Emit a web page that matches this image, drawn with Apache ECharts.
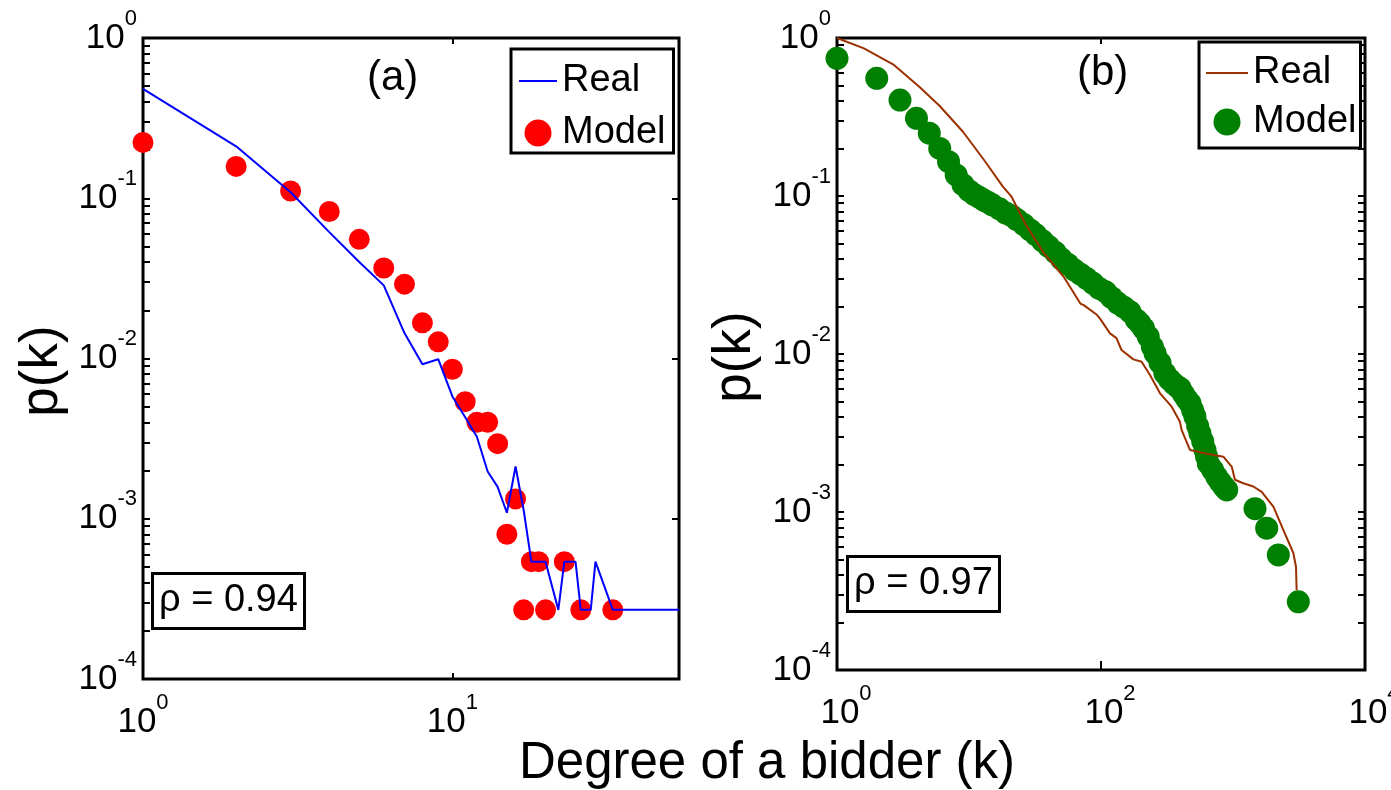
<!DOCTYPE html>
<html>
<head>
<meta charset="utf-8">
<title>Degree of a bidder</title>
<script src="https://cdn.jsdelivr.net/npm/echarts@6/dist/echarts.min.js"></script>
<style>
html,body{margin:0;padding:0;background:#fff;}
#chart{width:1391px;height:790px;}
</style>
</head>
<body>
<div id="chart"></div>
<script>
// panel (a)
var realAK = [1,2,3,4,5,6,7,8,9,10,11,12,13,14,15,16,17,18,19,20,22,23,24,25,26,27,28,29,33,54];
var realAP = [0.482,0.211,0.109,0.0615,0.040,0.0286,0.0144,0.0092,0.0099,0.0058,
  0.0043,0.00325,0.00197,0.00158,0.00109,0.00212,0.00113,5.4e-4,5.4e-4,5.4e-4,
  2.7e-4,5.4e-4,5.4e-4,5.4e-4,2.7e-4,2.7e-4,2.7e-4,5.4e-4,2.7e-4,2.7e-4];
var modelAK = [1,2,3,4,5,6,7,8,9,10,11,12,13,14,15,16,17,18,19,20,23,26,33];
var modelAP = [0.223,0.158,0.111,0.0827,0.0554,0.0367,0.0291,0.0167,0.0127,0.00857,
  0.00538,0.0040,0.0040,0.00294,0.0008,0.00133,2.7e-4,5.4e-4,5.4e-4,2.7e-4,5.4e-4,2.7e-4,2.7e-4];

// panel (b)
var realBK = [1,1.6,2.7,4.2,6,9,13,18,21,27,37,52,70,74,93,98,117,131,143,176,203,235,280,343,396,408,472,632,845,977,1035,1197,1425,1650,2022,2405,2864,3000,3035];
var realBP = [1.0,0.86,0.675,0.492,0.371,0.255,0.169,0.115,0.099,0.0655,0.0434,0.0309,0.0208,0.0204,0.0177,0.0168,0.0135,0.0126,0.0106,0.00925,
  0.00894,0.00736,0.00564,0.00464,0.00373,0.00331,0.00247,0.00234,0.00224,0.00194,0.0016,0.00152,0.00145,0.00134,0.00108,7.7e-4,5.5e-4,4.5e-4,3.2e-4];
var modelBK = [1,2,3,4,5,6,7,8,9,10,11,12,13,14,15,17,19,21,23,26,29,32,36,40,45,50,56,63,70,78,87,97,108,120,134,149,166,185,197,210,
  228,245,257,280,305,330,355,380,397,420,445,472,495,515,540,562,590,613,630,650,700,753,800,850,896,1468,1800,2205,3125];
var modelBP = [0.744,0.556,0.405,0.31,0.25,0.2,0.165,0.136,0.118,0.108,0.102,0.098,0.094,0.091,0.088,0.083,0.078,0.075,0.071,0.066,
  0.061,0.057,0.052,0.048,0.044,0.040,0.037,0.034,0.032,0.030,0.028,0.026,0.0248,0.0228,0.021,0.0198,0.0185,0.0165,0.0156,0.0145,
  0.0129,0.0111,0.0101,0.0088,0.00755,0.0069,0.0065,0.0062,0.00607,0.0056,0.0052,0.00488,0.0044,0.00401,0.0035,0.00315,0.0028,0.00247,0.00225,0.00203,
  0.00185,0.00167,0.00155,0.00145,0.00138,0.00105,7.9e-4,5.35e-4,2.7e-4];

// ticks
var yDecades = [1e-4,1e-3,1e-2,1e-1,1];
var xLabelsA = [1,10];
var xLabelsB = [1,100,10000];
var xTopA = [10];
var xTopB = [100];

var FONT = 'Liberation Sans, Arial, sans-serif';

var yMinor = [];
yDecades.slice(0,-1).forEach(function(d){
  for (var m = 2; m <= 9; m++) yMinor.push(d*m);
});
var yAll = yDecades.concat(yMinor);

function pairs(k, p){
  return k.map(function(v,i){ return [v, p[i]]; });
}
function expLabel(v){
  var e = Math.round(Math.log(v)/Math.LN10);
  return '{b|10}{s|' + e + '}';
}
function makeRich(padLeft){
  return {
    b: {fontSize:35, fontFamily:FONT, color:'#000', padding:[13,0,13,padLeft]},
    s: {fontSize:22, fontFamily:FONT, color:'#000', verticalAlign:'top'}
  };
}
function stripName(n){ return n.replace(/ \(.\)$/, ''); }

function xAx(grid, pos, max, ticks, labels, len, padLeft){
  return {
    type:'log', logBase:10, gridIndex:grid, position:pos, min:1, max:max,
    axisLine:{show:false}, splitLine:{show:false},
    axisTick:{show:true, inside:true, length:len, customValues:ticks, lineStyle:{color:'#000', width:2}},
    axisLabel: labels ? {show:true, customValues:labels, formatter:expLabel, rich:makeRich(padLeft), margin:13} : {show:false}
  };
}
function yAx(grid, pos, ticks, labels){
  return {
    type:'log', logBase:10, gridIndex:grid, position:pos, min:1e-4, max:1,
    axisLine:{show:false}, splitLine:{show:false},
    axisTick:{show:true, inside:true, length:7, customValues:ticks, lineStyle:{color:'#000', width:2}},
    axisLabel: labels ? {show:true, customValues:labels, formatter:expLabel, rich:makeRich(0), margin:6} : {show:false}
  };
}
var noMarker = {color:'rgba(0,0,0,0)', borderColor:'rgba(0,0,0,0)', borderWidth:0};

var chart = echarts.init(document.getElementById('chart'));
chart.setOption({
  animation:false,
  backgroundColor:'#fff',
  grid:[
    {left:143, top:38, width:536, height:641, show:true, borderColor:'#000', borderWidth:3, backgroundColor:'#fff', outerBoundsMode:'none'},
    {left:837, top:38, width:528, height:632, show:true, borderColor:'#000', borderWidth:3, backgroundColor:'#fff', outerBoundsMode:'none'}
  ],
  xAxis:[
    xAx(0, 'bottom', 54, xLabelsA.slice(1), xLabelsA, 6, 0),
    xAx(0, 'top', 54, xTopA, null, 6, 0),
    xAx(1, 'bottom', 10000, xTopB, xLabelsB, 9, 18),
    xAx(1, 'top', 10000, xTopB, null, 6, 0)
  ],
  yAxis:[
    yAx(0, 'left', yAll, yDecades),
    yAx(0, 'right', yDecades, null),
    yAx(1, 'left', yAll, yDecades),
    yAx(1, 'right', yAll, null)
  ],
  legend:[
    {orient:'vertical', left:511, top:49, padding:[13,8,1,7], itemGap:14, itemWidth:38, itemHeight:27,
     borderColor:'#000', borderWidth:3, backgroundColor:'#fff', selectedMode:false,
     data:[{name:'Real (a)', itemStyle:noMarker},'Model (a)'], formatter:stripName,
     textStyle:{fontSize:38, fontFamily:FONT, color:'#000'}},
    {orient:'vertical', left:1199, top:42, padding:[12,4,7,6], itemGap:11, itemWidth:42, itemHeight:27,
     borderColor:'#000', borderWidth:3, backgroundColor:'#fff', selectedMode:false,
     data:[{name:'Real (b)', itemStyle:noMarker},'Model (b)'], formatter:stripName,
     textStyle:{fontSize:38, fontFamily:FONT, color:'#000'}}
  ],
  title:[
    {text:'(a)', left:367, top:57, padding:0, textStyle:{fontSize:42, fontWeight:'normal', fontFamily:FONT, color:'#000'}},
    {text:'(b)', left:1077, top:52, padding:0, textStyle:{fontSize:42, fontWeight:'normal', fontFamily:FONT, color:'#000'}},
    {text:'ρ = 0.94', left:152, top:573, padding:[9,7,9,7], borderColor:'#000', borderWidth:3, backgroundColor:'#fff',
     textStyle:{fontSize:38, fontWeight:'normal', fontFamily:FONT, color:'#000'}},
    {text:'ρ = 0.97', left:847, top:556, padding:[9,7,9,7], borderColor:'#000', borderWidth:3, backgroundColor:'#fff',
     textStyle:{fontSize:38, fontWeight:'normal', fontFamily:FONT, color:'#000'}}
  ],
  graphic:[
    {type:'text', x:42, y:371, rotation:Math.PI/2, style:{text:'p(k)', fontSize:53, fontFamily:FONT, fill:'#000', align:'center', verticalAlign:'middle'}},
    {type:'text', x:735, y:357, rotation:Math.PI/2, style:{text:'p(k)', fontSize:53, fontFamily:FONT, fill:'#000', align:'center', verticalAlign:'middle'}},
    {type:'text', x:767, y:764, style:{text:'Degree of a bidder (k)', fontSize:51, fontFamily:FONT, fill:'#000', align:'center', verticalAlign:'middle'}}
  ],
  series:[
    {name:'Real (a)', type:'line', xAxisIndex:0, yAxisIndex:0, data:pairs(realAK, realAP),
     symbol:'none', lineStyle:{color:'#0000ff', width:2}, itemStyle:{color:'#0000ff'}},
    {name:'Model (a)', type:'scatter', xAxisIndex:0, yAxisIndex:0, data:pairs(modelAK, modelAP),
     symbol:'circle', symbolSize:21, clip:false, itemStyle:{color:'#ff0000', opacity:1}},
    {name:'Real (b)', type:'line', xAxisIndex:2, yAxisIndex:2, data:pairs(realBK, realBP),
     symbol:'none', lineStyle:{color:'#9c3100', width:2}, itemStyle:{color:'#9c3100'}},
    {name:'Model (b)', type:'scatter', xAxisIndex:2, yAxisIndex:2, data:pairs(modelBK, modelBP),
     symbol:'circle', symbolSize:23, clip:false, itemStyle:{color:'#008000', opacity:1}}
  ]
});
</script>
</body>
</html>
